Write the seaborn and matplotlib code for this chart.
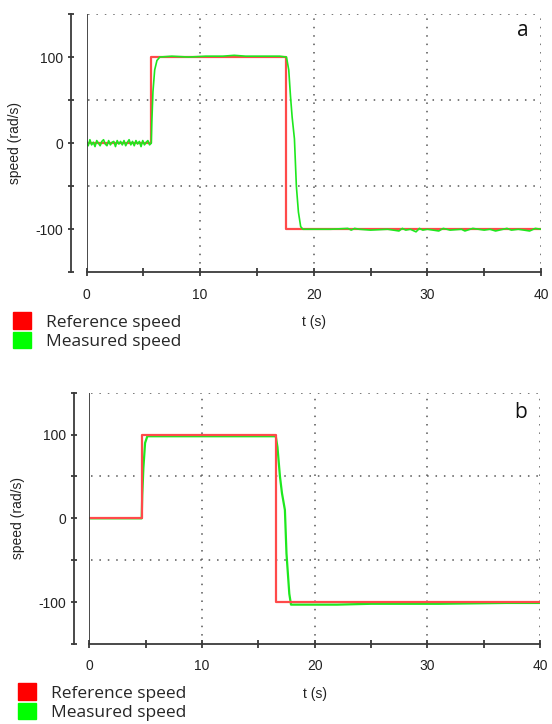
import numpy as np
import pandas as pd
import matplotlib
matplotlib.use("Agg")
import matplotlib.pyplot as plt
import seaborn as sns
from matplotlib.patches import Patch

sns.set_style("white")
plt.rcParams['font.family'] = ['Liberation Sans', 'DejaVu Sans']

# ---------------- data ----------------
# Panel a: reference speed
ref_a_t = [0, 5.7, 5.7, 17.55, 17.55, 40]
ref_a_v = [0, 0, 100, 100, -100, -100]
# Panel a: measured speed
meas_a_t = [0.0, 0.15, 0.3, 0.45, 0.6, 0.75, 0.9, 1.05, 1.2, 1.35, 1.5, 1.65, 1.8,
            1.95, 2.1, 2.25, 2.4, 2.55, 2.7, 2.85, 3.0, 3.15, 3.3, 3.45, 3.6, 3.75,
            3.9, 4.05, 4.2, 4.35, 4.5, 4.65, 4.8, 4.95, 5.1, 5.25, 5.4, 5.55, 5.7,
            5.75, 5.85, 6.0, 6.2, 6.45, 7.5, 9.0, 10.5, 12.0, 13.0, 14.0, 15.5, 17.0, 17.6,
            17.8, 17.95, 18.1, 18.3, 18.47, 18.65, 18.85, 19.05,
            20.0, 21.5, 23.0, 23.3, 23.6, 24.0, 25.0, 26.5, 27.5, 27.8, 28.1, 28.5,
            29.0, 29.3, 29.6, 30.0, 31.0, 31.4, 32.0, 33.0, 33.3, 34.0, 35.0, 35.5,
            36.0, 37.0, 37.4, 38.0, 39.0, 39.5, 40.0]
meas_a_v = [2, -3, 4, -2, 1, -4, 3, 0, -3, 2, 4, -1, -3,
            3, -2, 1, 2, -4, 3, -1, 2, -2, 3, -3, 1, 4,
            -2, 2, -3, 3, -1, 2, -4, 3, -2, 1, 3, -2, 0,
            25, 60, 85, 96, 100, 101, 100, 101, 101, 102, 101, 101, 101, 100,
            85, 55, 30, 5, -50, -80, -97, -100,
            -100, -100, -99, -101, -99, -100, -101, -100, -102, -99, -101, -100,
            -103, -99, -101, -100, -102, -99, -101, -100, -102, -99, -101, -100,
            -102, -99, -101, -100, -102, -99, -100]

# Panel b: reference speed
ref_b_t = [0, 4.65, 4.65, 16.55, 16.55, 40]
ref_b_v = [0, 0, 100, 100, -100, -100]
# Panel b: measured speed
meas_b_t = [0.0, 4.65, 4.7, 4.8, 4.95, 5.15, 6.0, 8.0, 10.0, 14.0, 16.55,
            16.7, 16.92, 17.1, 17.36, 17.5, 17.75, 17.9, 18.5, 20.0, 22.0, 25.0,
            28.0, 31.0, 34.0, 37.0, 40.0]
meas_b_v = [0, 0, 28, 60, 90, 98, 98, 98, 98, 98, 98,
            85, 50, 30, 10, -42, -90, -103, -103, -103, -103, -102,
            -102, -102, -101.5, -101, -101]

x_ticks = [0, 10, 20, 30, 40]
y_ticks = [-150, -100, -50, 0, 50, 100, 150]
y_labels = ['', '-100', '', '0', '', '100', '']

RED = '#ff4a4a'
GREEN = '#1ee81e'
AX = '#3a3a3a'

fig = plt.figure(figsize=(5.52, 7.24), dpi=100)
ax_a = fig.add_axes([86.5/552, 1-272.3/724, 454.5/552, 258.3/724])
ax_b = fig.add_axes([89.3/552, 1-644/724, 450.7/552, 251.3/724])


def style(ax, panel, letter_pos):
    ax.set_xlim(0, 40)
    ax.set_ylim(-150, 150)
    for s in ['top', 'right']:
        ax.spines[s].set_visible(False)
    ax.spines['left'].set_position(('outward', 11))
    for s in ['left', 'bottom']:
        ax.spines[s].set_color(AX)
        ax.spines[s].set_linewidth(1.3)
    ax.axvline(0, color=AX, lw=1.3, zorder=4)
    ax.set_xticks(x_ticks)
    ax.set_xticks([5, 15, 25, 35], minor=True)
    ax.set_yticks(y_ticks)
    ax.set_yticklabels(y_labels)
    ax.tick_params(axis='x', which='both', bottom=True, direction='inout', length=6, width=1.3,
                   color=AX, pad=8, labelsize=10, labelcolor='#222222')
    ax.tick_params(axis='y', left=True, direction='inout', length=5, width=1.3,
                   color=AX, pad=3, labelsize=10, labelcolor='#222222')
    for xv in [10, 20, 30, 40]:
        ax.axvline(xv, color='#555555', lw=1.1, ls=(0, (1, 4.5)), zorder=0)
    for yv in [-50, 50, 150]:
        ax.axhline(yv, color='#555555', lw=1.1, ls=(0, (1, 4.5)), zorder=0, xmin=0.003)
    ax.set_xlabel('t (s)', fontsize=10, color='#222222', labelpad=10)
    ax.set_ylabel('speed (rad/s)', fontsize=10, color='#222222', labelpad=10)
    ax.text(letter_pos[0], letter_pos[1], panel, transform=ax.transAxes,
            fontsize=15, family='Open Sans', ha='center', va='center', color='#111111')


df_ref_a = pd.DataFrame({'t': ref_a_t, 'v': ref_a_v})
df_meas_a = pd.DataFrame({'t': meas_a_t, 'v': meas_a_v})
df_ref_b = pd.DataFrame({'t': ref_b_t, 'v': ref_b_v})
df_meas_b = pd.DataFrame({'t': meas_b_t, 'v': meas_b_v})

sns.lineplot(data=df_ref_a, x='t', y='v', ax=ax_a, color=RED, lw=1.6,
             estimator=None, sort=False, zorder=2)
sns.lineplot(data=df_meas_a, x='t', y='v', ax=ax_a, color=GREEN, lw=1.2,
             estimator=None, sort=False, zorder=3)
sns.lineplot(data=df_meas_b, x='t', y='v', ax=ax_b, color=GREEN, lw=1.6,
             estimator=None, sort=False, zorder=2)
sns.lineplot(data=df_ref_b, x='t', y='v', ax=ax_b, color=RED, lw=1.6,
             estimator=None, sort=False, zorder=3)

style(ax_a, 'a', (0.960, 0.938))
style(ax_b, 'b', (0.956, 0.923))

handles = [Patch(facecolor='#ff0000', edgecolor='#ff0000', label='Reference speed'),
           Patch(facecolor='#00ff00', edgecolor='#00ff00', label='Measured speed')]
for (x0, y0) in [(10/552, 1-309/724), (15/552, 1-680/724)]:
    fig.legend(handles=handles, loc='upper left', bbox_to_anchor=(x0, y0),
               frameon=False, handlelength=1.0, handleheight=1.1, handletextpad=0.9,
               labelspacing=0.05, borderpad=0.2, borderaxespad=0,
               prop={'family': 'Open Sans', 'size': 12.5})

fig.savefig('out.png', dpi=100)
